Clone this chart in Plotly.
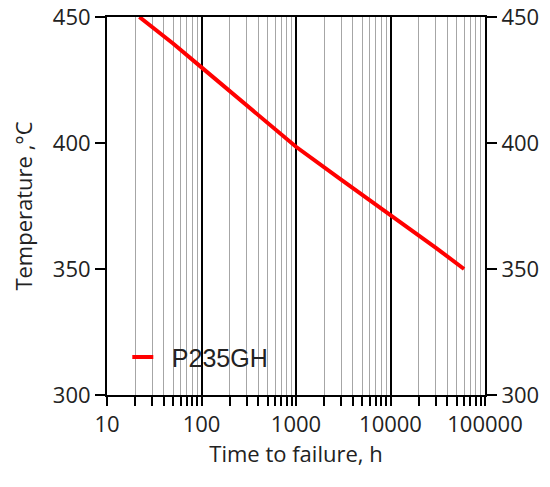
import plotly.graph_objects as go

# time to failure (h) vs temperature (C)
hours = [22, 50, 100, 200, 500, 1000, 3000, 10000, 30000, 60000]
temps = [450, 439.5, 430, 420.5, 408, 398.5, 385.5, 371.5, 358.5, 350]

x_ticks = [10, 100, 1000, 10000, 100000]
x_labels = ["10", "100", "1000", "10000", "100000"]
y_ticks = [300, 350, 400, 450]

tick_font = dict(family="Open Sans", size=22, color="#222222")

fig = go.Figure()
fig.add_trace(
    go.Scatter(
        x=hours,
        y=temps,
        mode="lines",
        line=dict(color="#ff0000", width=4),
        showlegend=False,
        hoverinfo="x+y",
    )
)
# legend entry with a short red dash
fig.add_trace(
    go.Scatter(
        x=[None],
        y=[None],
        mode="markers",
        name="P235GH",
        marker=dict(symbol="line-ew-open", size=15, color="#ff0000",
                    line=dict(color="#ff0000", width=4)),
    )
)
# invisible trace so the right hand axis gets drawn
fig.add_trace(
    go.Scatter(x=[hours[0]], y=[temps[0]], yaxis="y2", mode="markers",
               marker=dict(opacity=0), showlegend=False, hoverinfo="skip")
)

# page body has an 8px margin, so the figure is a bit smaller than the window
fig.update_layout(
    width=542,
    height=479,
    paper_bgcolor="white",
    plot_bgcolor="white",
    margin=dict(l=99, r=65, t=9, b=92),
    font=tick_font,
    legend=dict(
        x=0.018,
        y=0.1,
        xanchor="left",
        yanchor="middle",
        itemwidth=48,
        bgcolor="rgba(0,0,0,0)",
        font=dict(family="Liberation Sans", size=25, color="#222222"),
    ),
    xaxis=dict(
        type="log",
        range=[1, 5],
        tickvals=x_ticks,
        ticktext=x_labels,
        ticks="outside",
        ticklen=9,
        tickwidth=2,
        tickcolor="black",
        showline=True,
        linecolor="black",
        linewidth=2,
        mirror=True,
        showgrid=True,
        gridcolor="black",
        gridwidth=2,
        zeroline=False,
        automargin=False,
        ticklabeloverflow="allow",
        tickfont=tick_font,
        minor=dict(
            dtick="D1",
            ticks="outside",
            ticklen=9,
            tickwidth=1.5,
            tickcolor="black",
            showgrid=True,
            gridcolor="#a6a6a6",
            gridwidth=1,
        ),
        title=dict(text="Time to failure, h", font=tick_font, standoff=8),
    ),
    yaxis=dict(
        range=[300, 450],
        tickvals=y_ticks,
        ticks="outside",
        ticklen=10,
        tickwidth=2,
        tickcolor="black",
        showline=True,
        linecolor="black",
        linewidth=2,
        showgrid=False,
        zeroline=False,
        automargin=False,
        ticklabeloverflow="allow",
        tickfont=tick_font,
        title=dict(text="Temperature ,°C", font=tick_font, standoff=16),
    ),
    yaxis2=dict(
        overlaying="y",
        side="right",
        range=[300, 450],
        tickvals=y_ticks,
        ticks="outside",
        ticklen=10,
        tickwidth=2,
        tickcolor="black",
        showline=True,
        linecolor="black",
        linewidth=2,
        showgrid=False,
        zeroline=False,
        automargin=False,
        ticklabeloverflow="allow",
        tickfont=tick_font,
    ),
)

fig.write_html("out.html")
